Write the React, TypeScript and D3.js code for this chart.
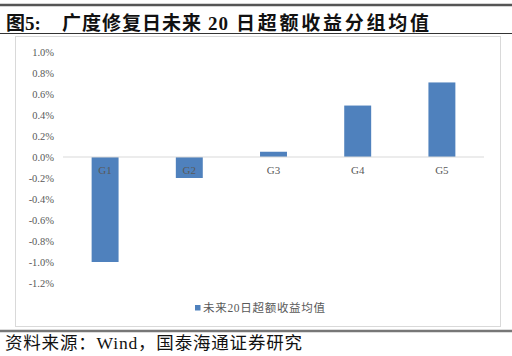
import React from "react";
import * as d3 from "d3";

const categories = ["G1", "G2", "G3", "G4", "G5"];
const values = [-1.0, -0.2, 0.05, 0.49, 0.71];
const yTicks = [1.0, 0.8, 0.6, 0.4, 0.2, 0.0, -0.2, -0.4, -0.6, -0.8, -1.0, -1.2];
const seriesName = "未来20日超额收益均值";

const W = 512;
const H = 356;

export default function App() {
  const x = d3.scaleBand<string>().domain(categories).range([63, 484]).paddingInner(0.68).paddingOuter(0.34);
  const y = d3.scaleLinear().domain([-1.2, 1.0]).range([283, 52]);
  const serif = "'Liberation Serif', 'Times New Roman', serif";
  const cjk = "'Liberation Serif', 'Noto Sans CJK SC', serif";
  const gray = "#595959";
  return (
    <div style={{ position: "absolute", left: 0, top: 0 }}>
      <svg width={W} height={H} style={{ display: "block", background: "#fff" }}>
        <line x1={0} x2={W} y1={5} y2={5} stroke="#555" strokeWidth={2.5} />
        <g fontFamily={cjk} fontWeight="bold" fontSize={19} fill="#111">
          <text x={6} y={30}>图</text>
          <text x={25} y={30}>5:</text>
          <text x={62} y={30} textLength={139} lengthAdjust="spacing">广度修复日未来</text>
          <text x={208} y={30} textLength={20} lengthAdjust="spacing">20</text>
          <text x={236} y={30} textLength={193} lengthAdjust="spacing">日超额收益分组均值</text>
        </g>
        <line x1={0} x2={W} y1={33.5} y2={33.5} stroke="#333" strokeWidth={1.2} />
        <rect x={15.5} y={36.5} width={485} height={290} fill="none" stroke="#d9d9d9" strokeWidth={1} />
        {yTicks.map((t) => (
          <text key={t} x={54} y={y(t)} dy="0.35em" textAnchor="end" fontFamily={serif} fontSize={10.5} fill={gray}>
            {t.toFixed(1) + "%"}
          </text>
        ))}
        {categories.map((c, i) => {
          const v = values[i];
          const y0 = y(0);
          const yv = y(v);
          return (
            <rect key={c} x={x(c)} width={x.bandwidth()} y={Math.min(y0, yv)} height={Math.abs(yv - y0)} fill="#4f81bd" />
          );
        })}
        <line x1={63} x2={484} y1={y(0)} y2={y(0)} stroke="#d9d9d9" strokeWidth={1} />
        {categories.map((c) => (
          <text key={c} x={(x(c) as number) + x.bandwidth() / 2} y={y(0) + 17} textAnchor="middle" fontFamily={serif} fontSize={11} fill={gray}>
            {c}
          </text>
        ))}
        <rect x={195} y={305} width={5.5} height={5.5} fill="#4f81bd" />
        <text x={203} y={312} fontFamily={cjk} fontSize={11.5} fill={gray} textLength={122} lengthAdjust="spacing">
          {seriesName}
        </text>
        <line x1={0} x2={W} y1={331} y2={331} stroke="#777" strokeWidth={2.5} />
        <text x={5} y={349} fontFamily={cjk} fontSize={17.5} fill="#111" textLength={297} lengthAdjust="spacing">
          资料来源：Wind，国泰海通证券研究
        </text>
      </svg>
    </div>
  );
}
